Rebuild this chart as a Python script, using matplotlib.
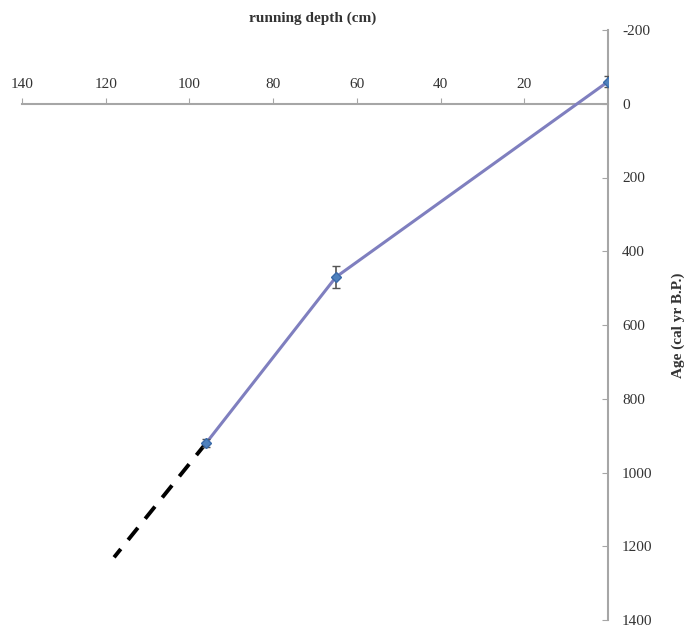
import matplotlib
matplotlib.use("Agg")
import matplotlib.pyplot as plt

depth = [0, 65, 96]
age = [-60, 470, 920]
age_err = [15, 30, 12]
extrap_depth = [96, 118]
extrap_age = [920, 1230]
x_ticks = [140, 120, 100, 80, 60, 40, 20]
y_ticks = [-200, 0, 200, 400, 600, 800, 1000, 1200, 1400]

plt.rcParams['font.family'] = ['Liberation Serif', 'DejaVu Serif']

fig = plt.figure(figsize=(6.9, 6.3), dpi=100)
ax = fig.add_axes([22/690, 10/630, 586/690, 590/630])
ax.set_xlim(140, 0)
ax.set_ylim(1400, -200)

ax.plot(extrap_depth, extrap_age, color='black', lw=2.8, ls=(0, (4, 3)), zorder=2)
ax.plot(depth, age, color='#7f7fbf', lw=2.2, zorder=3)
ax.errorbar(depth, age, yerr=age_err, fmt='none', ecolor='#555555', elinewidth=1.2,
            capsize=3, zorder=4)
ax.plot(depth, age, ls='none', marker='D', ms=5.5, color='#4f81bd',
        markeredgecolor='#3a6aa8', zorder=5)

for s in ['left', 'bottom']:
    ax.spines[s].set_visible(False)
ax.spines['top'].set_position(('data', 0))
ax.spines['top'].set_color('#a6a6a6')
ax.spines['right'].set_color('#a6a6a6')
ax.spines['top'].set_linewidth(1.5)
ax.spines['right'].set_linewidth(1.5)

ax.xaxis.set_ticks_position('top')
ax.set_xticks(x_ticks)
ax.set_xticklabels([str(t) for t in x_ticks])
ax.tick_params(axis='x', direction='out', length=4, color='#a6a6a6', pad=5,
               labelsize=11, labelcolor='#333333')

ax.yaxis.set_ticks_position('right')
ax.set_yticks(y_ticks)
ax.set_yticklabels([str(t) for t in y_ticks])
ax.tick_params(axis='y', direction='in', length=4, color='#a6a6a6', pad=10,
               labelsize=11, labelcolor='#333333')

ax.set_ylabel('Age (cal yr B.P.)', fontsize=11, fontweight='bold', color='#333333',
              labelpad=14)
ax.yaxis.set_label_position('right')

fig.text(313/690, 1 - 18/630, 'running depth (cm)', ha='center', va='center',
         fontsize=11, fontweight='bold', color='#333333')

fig.savefig('out.png', dpi=100, facecolor='white')
